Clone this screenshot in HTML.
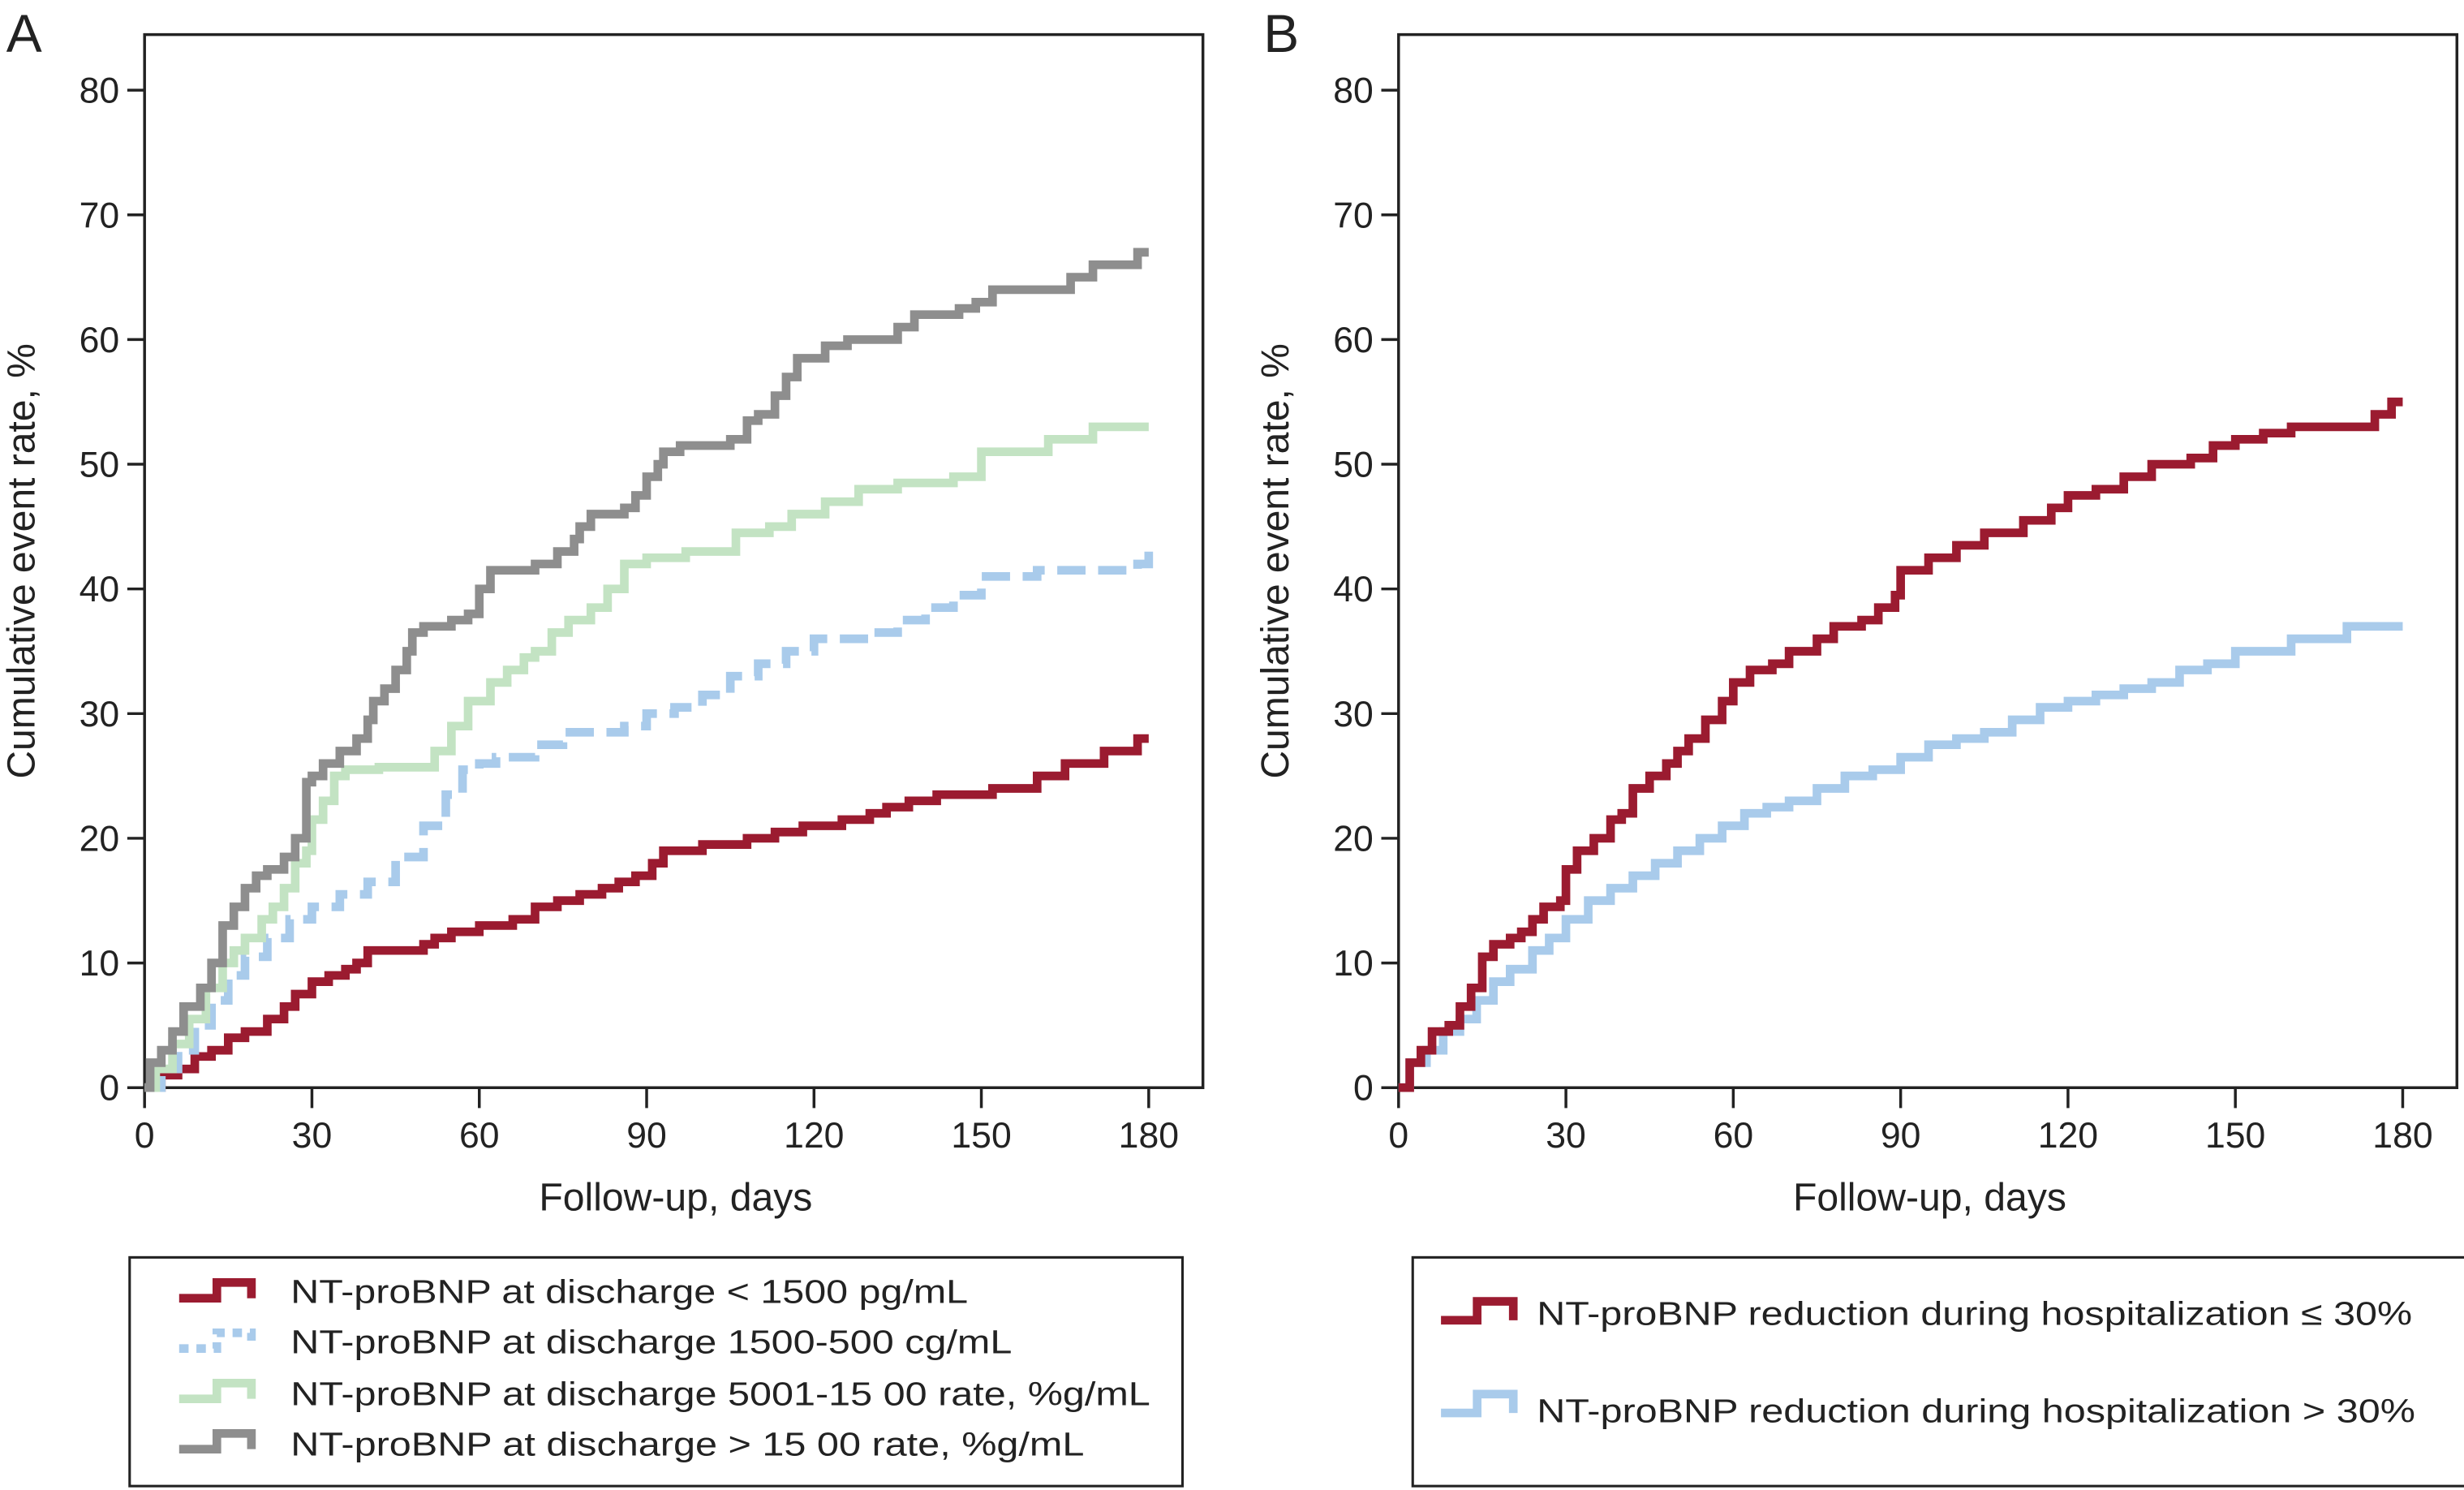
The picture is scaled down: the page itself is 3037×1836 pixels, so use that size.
<!DOCTYPE html>
<html><head><meta charset="utf-8"><style>
html,body{margin:0;padding:0;background:#fff;}
svg{display:block;font-family:"Liberation Sans",Arial,sans-serif;}
</style></head><body>
<svg id="fig" width="3037" height="1836" viewBox="0 0 1568 948" preserveAspectRatio="none" xmlns="http://www.w3.org/2000/svg">
<text x="4" y="33" font-size="34" fill="#222">A</text>
<text x="804" y="33" font-size="34" fill="#222">B</text>
<g id="pa"></g>
<g id="pb"></g>
<text x="22" y="357" font-size="25" fill="#222" text-anchor="middle" transform="rotate(-90 22 357)" textLength="277" lengthAdjust="spacingAndGlyphs">Cumulative event rate, %</text>
<text x="820" y="357" font-size="25" fill="#222" text-anchor="middle" transform="rotate(-90 820 357)" textLength="277" lengthAdjust="spacingAndGlyphs">Cumulative event rate, %</text>
<text x="430" y="770" font-size="25" fill="#222" text-anchor="middle" textLength="174" lengthAdjust="spacingAndGlyphs">Follow-up, days</text>
<text x="1228" y="770" font-size="25" fill="#222" text-anchor="middle" textLength="174" lengthAdjust="spacingAndGlyphs">Follow-up, days</text>

<g>
<rect x="82.5" y="800" width="670" height="145.5" fill="none" stroke="#222" stroke-width="1.6"/>
<g>
<path d="M114 826 H138 V816 H160 V826" fill="none" stroke="#9b1b30" stroke-width="5.5"/>
<text x="185" y="829" font-size="21" fill="#222" textLength="431" lengthAdjust="spacingAndGlyphs">NT-proBNP at discharge &lt; 1500 pg/mL</text></g>
<g>
<path d="M114 858 H138 V848 H160 V858" fill="none" stroke="#a9cbeb" stroke-width="5.5" stroke-dasharray="6 5"/>
<text x="185" y="861" font-size="21" fill="#222" textLength="459" lengthAdjust="spacingAndGlyphs">NT-proBNP at discharge 1500-500 cg/mL</text></g>
<g>
<path d="M114 890 H138 V880 H160 V890" fill="none" stroke="#c3e3c3" stroke-width="5.5"/>
<text x="185" y="894" font-size="21" fill="#222" textLength="547" lengthAdjust="spacingAndGlyphs">NT-proBNP at discharge 5001-15 00 rate, %g/mL</text></g>
<g>
<path d="M114 922 H138 V912 H160 V922" fill="none" stroke="#8e8e8e" stroke-width="5.5"/>
<text x="185" y="926" font-size="21" fill="#222" textLength="505" lengthAdjust="spacingAndGlyphs">NT-proBNP at discharge &gt; 15 00 rate, %g/mL</text></g>
</g>
<g>
<rect x="899" y="800" width="670" height="145.5" fill="none" stroke="#222" stroke-width="1.6"/>
<g>
<path d="M917 840 H940 V828 H963 V840" fill="none" stroke="#9b1b30" stroke-width="5.5"/>
<text x="978" y="843" font-size="21" fill="#222" textLength="557" lengthAdjust="spacingAndGlyphs">NT-proBNP reduction during hospitalization ≤ 30%</text></g>
<g>
<path d="M917 899 H940 V887 H963 V899" fill="none" stroke="#a9cbeb" stroke-width="5.5"/>
<text x="978" y="905" font-size="21" fill="#222" textLength="559" lengthAdjust="spacingAndGlyphs">NT-proBNP reduction during hospitalization &gt; 30%</text></g>
</g>
</svg>
<script>
const xTicks=[0,30,60,90,120,150,180];
const yTicks=[0,10,20,30,40,50,60,70,80];
const redA_days=[0,3,6,9,12,15,18,22,25,27,30,33,36,38,40,50,52,55,60,66,70,74,78,82,85,88,91,93,100,108,113,118,125,130,133,137,142,152,160,165,172,178,180];
const redA_vals=[0,1,1.5,2.5,3,4,4.5,5.5,6.5,7.5,8.5,9,9.5,10,11,11.5,12,12.5,13,13.5,14.5,15,15.5,16,16.5,17,18,19,19.5,20,20.5,21,21.5,22,22.5,23,23.5,24,25,26,27,28,28];
const blueA_days=[0,3,6,9,12,15,18,22,26,30,35,40,45,50,54,57,60,63,70,75,86,90,95,100,105,110,115,120,130,135,140,145,150,160,178,180];
const blueA_vals=[0,1.5,3,5,7,9,10.5,12,13.5,14.5,15.5,16.5,18.5,21,23.5,25.5,26,26.5,27.5,28.5,29,30,30.5,31.5,33,34,35,36,36.5,37.5,38.5,39.5,41,41.5,42,43];
const greenA_days=[0,2,5,8,11,14,16,18,21,23,25,27,29,30,32,34,36,42,52,55,58,62,65,68,70,73,76,80,83,86,90,97,106,112,116,122,128,135,145,150,162,170,180];
const greenA_vals=[0,1.5,3.5,5.5,8,10,11,12,13.5,14.5,16,18,19,21.5,23,25,25.5,25.7,27,29,31,32.5,33.5,34.5,35,36.5,37.5,38.5,40,42,42.5,43,44.5,45,46,47,48,48.5,49,51,52,53,53];
const grayA_days=[0,1,3,5,7,10,12,14,16,18,20,22,25,27,29,30,32,35,38,40,41,43,45,47,48,50,55,58,60,62,70,74,77,78,80,86,88,90,92,93,96,105,108,110,113,115,117,122,126,135,138,146,149,152,166,170,178,180];
const grayA_vals=[0,2,3,4.5,6.5,8,10,13,14.5,16,17,17.5,18.5,20,24.5,25,26,27,28,29.5,31,32,33.5,35,36.5,37,37.5,38,40,41.5,42,43,44,45,46,46.5,47.5,49,50,51,51.5,52,53.5,54,55.5,57,58.5,59.5,60,61,62,62.5,63,64,65,66,67,67];
const redB_days=[0,2,4,6,9,11,13,15,17,20,22,24,26,29,30,32,35,38,40,42,45,48,50,52,55,58,60,63,67,70,75,78,83,86,89,90,95,100,105,112,117,120,125,130,135,142,146,150,155,160,175,178,180];
const redB_vals=[0,2,3,4.5,5,6.5,8,10.5,11.5,12,12.5,13.5,14.5,15,17.5,19,20,21.5,22,24,25,26,27,28,29.5,31,32.5,33.5,34,35,36,37,37.5,38.5,39.5,41.5,42.5,43.5,44.5,45.5,46.5,47.5,48,49,50,50.5,51.5,52,52.5,53,54,55,55];
const blueB_days=[0,2,5,8,11,14,17,20,24,27,30,34,38,42,46,50,54,58,62,66,70,75,80,85,90,95,100,105,110,115,120,125,130,135,140,145,150,160,170,180];
const blueB_vals=[0,2,3,4.5,5.5,7,8.5,9.5,11,12,13.5,15,16,17,18,19,20,21,22,22.5,23,24,25,25.5,26.5,27.5,28,28.5,29.5,30.5,31,31.5,32,32.5,33.5,34,35,36,37,37];

const NS='http://www.w3.org/2000/svg';
const Y0=692, YPER=(692-57.4)/80;
function mk(tag,attrs,parent){const e=document.createElementNS(NS,tag);for(const k in attrs)e.setAttribute(k,attrs[k]);parent.appendChild(e);return e;}
function panel(g,x0,xRight,idp){
  const sx=d=>x0+d*(xRight-x0-34.5)/180;
  const sy=v=>Y0-v*YPER;
  const box=mk('path',{d:`M${x0} 22 H${xRight} V${Y0} H${x0} Z`,fill:'none',stroke:'#222','stroke-width':1.8},g);
  
  
  yTicks.forEach(t=>{
    const l=mk('line',{x1:x0-11,x2:x0,y1:sy(t),y2:sy(t),stroke:'#222','stroke-width':1.8},g);
    
    
    const tx=mk('text',{x:x0-16,y:sy(t)+8,'font-size':23,fill:'#222','text-anchor':'end'},g);
    tx.textContent=t;
    
    
  });
  xTicks.forEach(t=>{
    const l=mk('line',{x1:sx(t),x2:sx(t),y1:Y0,y2:Y0+13,stroke:'#222','stroke-width':1.8},g);
    
    
    const tx=mk('text',{x:sx(t),y:Y0+38,'font-size':23,fill:'#222','text-anchor':'middle'},g);
    tx.textContent=t;
    
    
  });
  return {sx,sy};
}
function step(g,ax,days,vals,color,dash,name){
  let d=`M${ax.sx(days[0])} ${ax.sy(vals[0])}`;
  for(let i=1;i<days.length;i++){d+=` H${ax.sx(days[i])} V${ax.sy(vals[i])}`;}
  const p=mk('path',{d:d,fill:'none',stroke:color,'stroke-width':5.5,'stroke-linejoin':'miter'},g);
  if(dash)p.setAttribute('stroke-dasharray',dash);
  
  
}
const ga=document.getElementById('pa'), gb=document.getElementById('pb');
const axA=panel(ga,92,765.5,'panel-a');
step(ga,axA,redA_days,redA_vals,'#9b1b30',null,'curve-lt-1500');
step(ga,axA,blueA_days,blueA_vals,'#a9cbeb','18 8','curve-1500-5000');
step(ga,axA,greenA_days,greenA_vals,'#c3e3c3',null,'curve-5001-15000');
step(ga,axA,grayA_days,grayA_vals,'#8e8e8e',null,'curve-gt-15000');
const axB=panel(gb,890,1563.5,'panel-b');
step(gb,axB,blueB_days,blueB_vals,'#a9cbeb',null,'curve-reduction-gt-30');
step(gb,axB,redB_days,redB_vals,'#9b1b30',null,'curve-reduction-le-30');
</script>
</body></html>
